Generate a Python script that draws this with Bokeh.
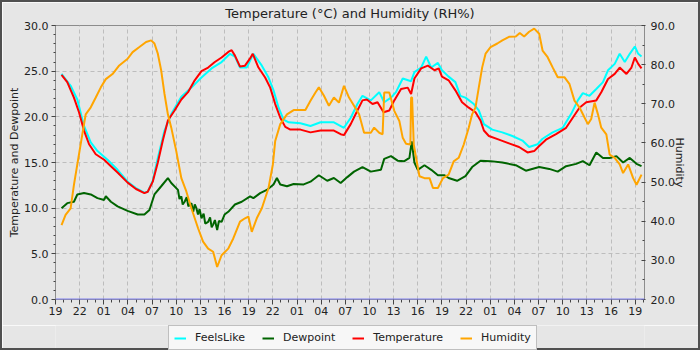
import numpy as np
from bokeh.plotting import figure
from bokeh.layouts import column
from bokeh.models import (Range1d, LinearAxis, FixedTicker, NumeralTickFormatter,
                          Span, Legend, LegendItem)
from bokeh.embed import file_html
from bokeh.resources import INLINE

START_HOUR = 19  # x axis starts at 19:00, values are hours since then

# (hours since start, value)
feels_like = [(0.75,24.7),(1.88,23.4),(2.71,21.9),(3.54,19.0),(4.38,17.2),(5.21,16.25),(6.46,15.3),
    (7.71,14.2),(8.96,12.9),(10.0,12.2),(11.04,11.7),(11.46,11.8),(12.08,13.0),(12.71,15.5),
    (13.54,18.5),(14.38,20.3),(15.63,22.2),(16.88,23.2),(18.13,24.3),(19.38,25.3),(20.63,26.0),
    (21.67,26.9),(22.29,26.6),(22.92,25.4),(23.75,25.4),(24.58,26.9),(25.63,25.6),(26.46,24.3),
    (27.08,22.9),(27.71,21.0),(28.33,19.7),(28.96,19.4),(30.42,19.3),(31.67,19.0),(32.92,19.4),
    (34.58,19.4),(35.83,18.8),(36.67,19.9),(37.5,21.4),(38.13,22.3),(39.17,21.8),(40.21,22.7),
    (40.83,21.6),(41.67,22.1),(42.29,22.7),(43.13,24.2),(44.17,23.9),(44.58,24.9),(45.42,25.4),
    (46.04,26.6),(46.67,25.4),(47.5,25.9),(48.0,25.1),(48.83,24.4),(49.67,23.8),(50.29,22.3),
    (50.92,22.1),(51.96,21.4),(52.58,20.7),(53.21,19.2),(54.25,18.6),(55.5,18.3),(56.75,17.9),
    (58.0,17.4),(58.83,16.7),(59.88,17.0),(60.5,17.6),(61.75,18.3),(63.0,18.8),(64.04,20.3),
    (64.88,21.8),(65.5,22.6),(66.33,22.3),(67.17,23.05),(68.0,23.8),(68.63,25.1),(69.46,25.8),
    (70.08,26.9),(70.71,26.0),(71.33,26.9),(71.96,27.7),(72.38,26.9),(72.79,26.6)]

dewpoint = [(0.75,10.0),(1.46,10.55),(2.29,10.7),(2.71,11.5),(3.54,11.65),(4.38,11.5),(5.21,11.1),
    (6.04,10.9),(6.25,11.3),(6.88,10.7),(7.71,10.2),(8.96,9.7),(10.21,9.3),(11.04,9.3),(11.67,9.8),
    (12.29,11.5),(13.13,12.4),(13.96,13.3),(14.38,12.75),(15.21,12.0),(15.4,11.0),(15.63,11.3),
    (15.8,10.4),(16.04,10.7),(16.3,11.2),(16.5,10.2),(16.88,10.55),(17.1,9.6),(17.3,10.4),
    (17.5,10.0),(17.7,9.3),(17.9,9.9),(18.13,8.9),(18.4,9.4),(18.6,8.3),(18.96,8.5),(19.2,9.0),
    (19.4,7.9),(19.58,8.2),(19.8,8.7),(20.08,7.6),(20.3,8.6),(20.63,8.5),(21.0,9.3),(21.46,9.6),
    (22.29,10.4),(23.13,10.7),(24.17,11.3),(24.58,11.1),(25.42,11.65),(26.25,12.0),(27.08,12.6),
    (27.5,13.3),(27.92,12.6),(28.75,12.4),(29.58,12.65),(30.83,12.6),(31.67,12.9),(32.71,13.6),
    (33.75,13.0),(34.58,13.3),(35.42,12.75),(36.25,13.4),(37.08,14.0),(38.13,14.5),(39.17,14.0),
    (40.42,14.2),(40.83,15.4),(41.67,15.7),(42.5,15.2),(43.33,15.15),(43.96,15.5),(44.25,17.3),
    (44.58,15.0),(45.0,14.2),(45.83,14.7),(46.67,14.2),(47.5,13.6),(48.33,13.6),(48.83,13.3),
    (49.88,13.0),(50.92,13.5),(51.75,14.5),(52.79,15.2),(54.04,15.15),(55.5,15.0),(57.17,14.7),
    (58.42,14.1),(60.08,14.5),(61.33,14.3),(62.38,14.0),(63.42,14.6),(64.67,14.85),(65.5,15.15),
    (66.33,14.7),(67.17,16.1),(68.0,15.5),(68.83,15.5),(69.67,15.7),(70.5,15.0),(71.33,15.5),
    (72.17,14.85),(72.79,14.6)]

temperature = [(0.75,24.6),(1.46,23.8),(2.29,22.1),(2.92,20.5),(3.54,18.5),(4.17,17.0),(5.0,15.9),
    (6.04,15.3),(6.88,14.6),(7.71,13.9),(8.96,12.8),(10.0,12.1),(11.04,11.65),(11.46,11.8),
    (12.08,12.9),(12.71,15.0),(13.33,17.4),(13.96,19.6),(14.79,20.7),(15.63,21.9),(16.46,22.7),
    (17.29,24.0),(18.13,25.0),(18.96,25.4),(19.79,26.0),(20.63,26.5),(21.46,27.1),(21.88,27.3),
    (22.29,26.7),(22.92,25.5),(23.54,25.6),(24.17,26.4),(24.5,26.9),(25.21,25.4),(26.04,24.3),
    (26.67,23.2),(27.29,21.4),(27.92,19.9),(28.54,18.9),(29.17,18.6),(30.42,18.6),(31.67,18.3),
    (32.92,18.5),(34.58,18.5),(35.42,18.1),(35.83,18.0),(36.67,19.2),(37.5,20.7),(38.13,21.8),
    (38.67,21.9),(39.38,21.4),(40.0,21.6),(40.75,20.5),(41.46,20.7),(42.08,21.8),(42.92,23.05),
    (43.75,23.2),(44.17,22.5),(44.58,24.2),(45.42,25.3),(46.25,25.6),(47.08,25.1),(47.6,25.3),
    (48.0,24.4),(48.83,24.0),(49.67,22.9),(50.5,21.6),(51.33,21.0),(52.17,20.5),(52.79,19.6),
    (53.21,18.5),(53.83,17.9),(55.08,17.5),(56.33,17.1),(57.58,16.7),(58.63,16.1),(59.46,16.25),
    (60.08,16.8),(60.92,17.5),(62.17,18.1),(63.42,18.8),(64.25,19.9),(65.08,21.0),(65.92,21.6),
    (67.17,21.8),(67.79,22.7),(68.63,24.15),(69.46,24.7),(70.08,25.4),(70.92,24.7),(71.54,25.4),
    (71.96,26.5),(72.38,25.8),(72.79,25.3)]

humidity = [(0.75,39.0),(1.25,41.6),(1.88,43.3),(2.29,49.3),(2.71,54.5),(3.33,62.2),(3.75,67.3),
    (4.38,69.1),(5.0,71.6),(5.63,74.2),(6.25,76.3),(7.08,77.6),(7.92,79.8),(8.96,81.5),(9.58,83.2),
    (10.42,84.5),(11.25,85.8),(11.88,86.2),(12.29,85.4),(12.71,82.8),(13.13,78.5),(13.54,72.5),
    (13.96,67.3),(14.38,63.9),(15.0,57.9),(15.63,51.0),(16.25,47.6),(16.88,43.3),(17.71,38.2),
    (18.33,34.8),(18.96,33.0),(19.58,32.2),(20.08,28.3),(20.63,31.3),(21.46,33.0),(22.08,35.6),
    (22.92,39.9),(23.54,40.75),(23.96,41.2),(24.38,37.3),(25.0,40.75),(25.63,43.3),(26.46,48.5),
    (27.0,54.5),(27.29,60.5),(27.92,64.8),(28.75,67.3),(29.58,68.4),(31.04,68.4),(31.67,70.8),
    (32.29,72.9),(32.71,74.2),(33.33,72.1),(33.96,69.5),(34.58,71.6),(35.21,70.3),(35.83,74.6),
    (36.46,71.6),(37.08,69.5),(37.71,67.3),(38.33,62.6),(39.17,62.6),(39.58,63.9),(40.21,62.6),
    (40.63,62.2),(40.83,72.9),(41.46,72.9),(42.08,68.2),(42.71,65.6),(43.13,61.3),(43.54,59.8),
    (44.08,59.6),(44.17,71.6),(44.29,71.6),(44.5,59.6),(44.79,56.2),(45.21,51.5),(45.83,51.0),
    (46.46,51.0),(46.88,48.5),(47.5,48.5),(48.13,51.0),(48.83,51.9),(49.46,55.3),(50.08,56.2),
    (50.71,59.6),(51.33,63.9),(51.75,67.3),(52.17,69.1),(52.58,74.2),(53.0,79.3),(53.42,82.8),
    (54.04,84.5),(54.88,85.4),(55.5,86.2),(56.33,87.1),(57.17,87.2),(57.67,88.1),(58.21,87.2),
    (58.83,88.4),(59.46,89.2),(60.08,87.9),(60.5,83.6),(61.13,81.9),(61.75,79.3),(62.38,76.8),
    (63.21,76.8),(63.83,75.1),(64.46,70.8),(65.08,69.1),(65.71,66.5),(66.13,64.8),(66.54,66.1),
    (66.96,70.3),(67.38,67.3),(67.79,63.9),(68.42,62.2),(68.83,57.0),(69.46,56.2),(70.08,54.5),
    (70.5,52.3),(71.13,54.5),(71.75,51.0),(72.17,49.3),(72.79,51.9)]

series_names = ["FeelsLike", "Dewpoint", "Temperature", "Humidity"]
series_colors = ["#00ffff", "#006400", "#ff0000", "#ffa500"]

x_major = list(range(0, 73, 3))
x_minor = list(range(0, 74, 1))
x_labels = {h: f"{(START_HOUR + h) % 24:02d}" for h in x_major}
left_major = [0, 5, 10, 15, 20, 25, 30]
left_minor = list(range(0, 31))
right_major = [20, 30, 40, 50, 60, 70, 80, 90]
right_minor = list(range(20, 91, 5))

FONT = "DejaVu Sans"
BG = "#e6e6e6"
EDGE = "2px solid #505050"

p = figure(width=700, height=325, output_backend="svg", toolbar_location=None,
           x_range=Range1d(0, 73.16), y_range=Range1d(0, 30),
           title="Temperature (°C) and Humidity (RH%)",
           background_fill_color=BG, border_fill_color=BG,
           min_border_left=53, min_border_right=58, min_border_top=23, min_border_bottom=28)
p.styles = {"border-top": EDGE, "border-left": EDGE, "border-right": EDGE}
p.extra_y_ranges = {"hum": Range1d(20, 90)}
p.outline_line_color = "#8c8c8c"

p.title.text_font = FONT
p.title.text_font_size = "13px"
p.title.text_font_style = "normal"
p.title.text_color = "#222222"
p.title.align = "center"
p.title.vertical_align = "top"
p.title.standoff = 6

# grids
for g in (p.xgrid, p.ygrid):
    g.grid_line_color = "#bdbdbd"
    g.grid_line_dash = "4 3"
    g.grid_line_width = 1
p.xgrid.ticker = FixedTicker(ticks=x_major)
p.ygrid.ticker = FixedTicker(ticks=left_major)

# x axis
xa = p.xaxis[0]
xa.ticker = FixedTicker(ticks=x_major, minor_ticks=x_minor)
xa.major_label_overrides = x_labels
xa.major_tick_out = 5
xa.major_tick_in = 0
xa.minor_tick_out = 3
xa.minor_tick_in = 0
xa.major_label_standoff = 2

# left axis
ya = p.yaxis[0]
ya.ticker = FixedTicker(ticks=left_major, minor_ticks=left_minor)
ya.formatter = NumeralTickFormatter(format="0.0")
ya.axis_label = "Temperature and Dewpoint"
ya.major_tick_out = 4
ya.major_tick_in = 0
ya.minor_tick_out = 2
ya.minor_tick_in = 0
ya.major_label_standoff = 3
ya.axis_label_standoff = 0

# right axis
ra = LinearAxis(y_range_name="hum", axis_label="Humidity",
                ticker=FixedTicker(ticks=right_major, minor_ticks=right_minor),
                formatter=NumeralTickFormatter(format="0.0"))
ra.major_tick_in = 3
ra.major_tick_out = 1
ra.minor_tick_in = 2
ra.minor_tick_out = 0
ra.major_label_standoff = 5
ra.axis_label_standoff = -5
p.add_layout(ra, "right")

for ax in (xa, ya, ra):
    ax.axis_line_color = "#8c8c8c"
    ax.major_tick_line_color = "#444444"
    ax.minor_tick_line_color = "#444444"
    ax.major_label_text_font = FONT
    ax.major_label_text_font_size = "11px"
    ax.major_label_text_color = "#222222"
    ax.axis_label_text_font = FONT
    ax.axis_label_text_font_size = "11px"
    ax.axis_label_text_font_style = "normal"
    ax.axis_label_text_color = "#222222"

# baseline
p.add_layout(Span(location=0, dimension="width", line_color="#8080f0", line_width=2))

def xs(data):
    return [d[0] for d in data]

def ys(data):
    return [d[1] for d in data]

p.line(xs(feels_like), ys(feels_like), line_color=series_colors[0], line_width=2)
p.line(xs(dewpoint), ys(dewpoint), line_color=series_colors[1], line_width=2)
p.line(xs(temperature), ys(temperature), line_color=series_colors[2], line_width=2)
p.line(xs(humidity), ys(humidity), line_color=series_colors[3], line_width=2,
       y_range_name="hum")

# legend strip below the chart (a frame-only figure holding the legend)
leg = figure(width=700, height=25, output_backend="svg", toolbar_location=None,
             x_range=Range1d(0, 1), y_range=Range1d(0, 1),
             x_axis_location=None, y_axis_location=None,
             background_fill_color=BG, border_fill_color=BG,
             min_border=0, min_border_left=0, min_border_right=0,
             min_border_top=0, min_border_bottom=0)
leg.styles = {"border-bottom": EDGE, "border-left": EDGE, "border-right": EDGE}
leg.outline_line_color = None
leg.grid.visible = False
items = []
for name, color in zip(series_names, series_colors):
    r = leg.line(np.array([np.nan]), np.array([np.nan]), line_color=color, line_width=2)
    items.append(LegendItem(label=name, renderers=[r]))
legend = Legend(items=items, orientation="horizontal", location=(113, 0),
                border_line_color="#888888", background_fill_color="#f7f7f7",
                background_fill_alpha=1.0,
                label_text_font=FONT, label_text_font_size="11px", label_text_color="#222222",
                glyph_width=12, glyph_height=12, label_standoff=9, spacing=17,
                padding=5, margin=0, label_height=12)
leg.add_layout(legend, "center")

page = column(p, leg, spacing=0)
open("out.html", "w").write(file_html(page, INLINE))
